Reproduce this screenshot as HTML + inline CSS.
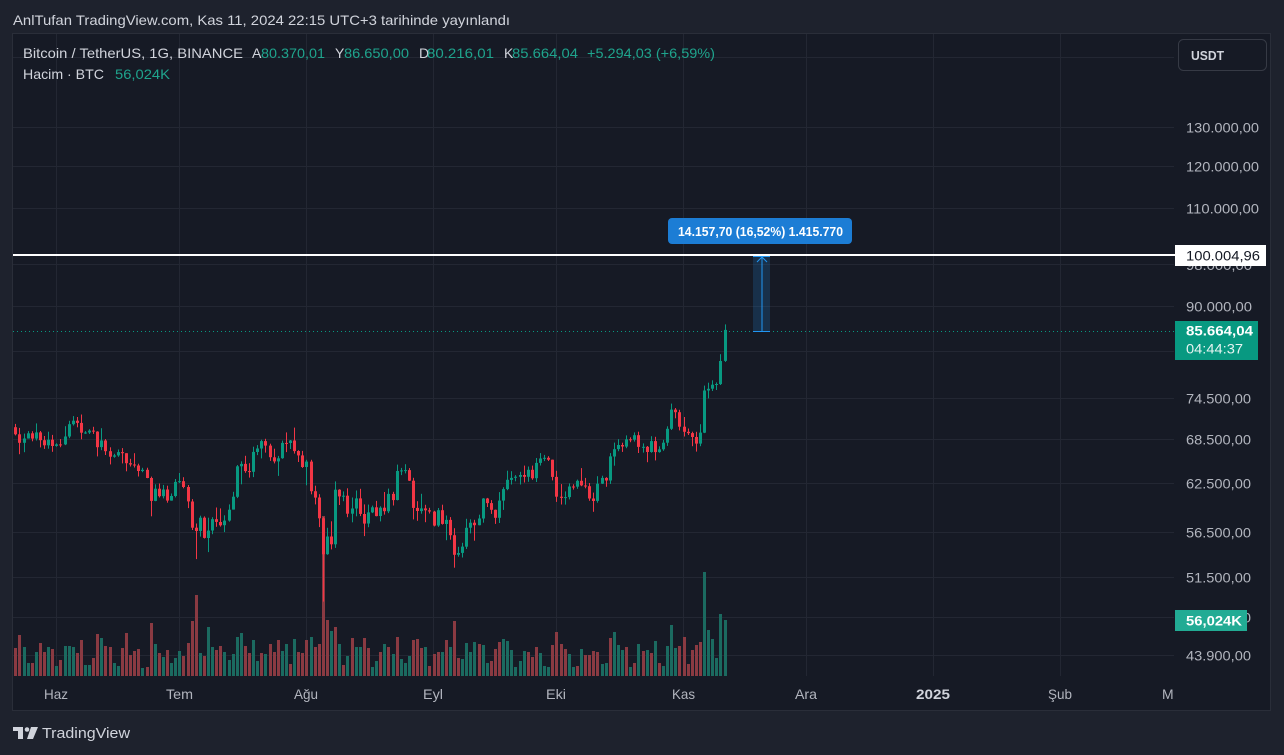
<!DOCTYPE html>
<html><head><meta charset="utf-8">
<style>
html,body{margin:0;padding:0;background:#1e222d;width:1284px;height:755px;overflow:hidden}
svg{display:block}
text{font-family:"Liberation Sans",sans-serif}
</style></head><body>
<svg id="s" width="1284" height="755" viewBox="0 0 1284 755" xmlns="http://www.w3.org/2000/svg">
<defs>
<clipPath id="tc"><rect x="13" y="676" width="1160.5" height="34"/></clipPath>
</defs>
<rect width="1284" height="755" fill="#1e222d"/>
<text x="13" y="25" fill="#d1d4dc" font-size="14" textLength="497" lengthAdjust="spacingAndGlyphs">AnlTufan TradingView.com, Kas 11, 2024 22:15 UTC+3 tarihinde yayınlandı</text>
<rect x="12.5" y="33.5" width="1258" height="677" fill="#161a25" stroke="#2a2e39"/>

<!-- grid -->
<g stroke="#232733" stroke-width="1">
<line x1="13" x2="1174" y1="57.5" y2="57.5"/>
<line x1="13" x2="1174" y1="127.5" y2="127.5"/>
<line x1="13" x2="1174" y1="166.5" y2="166.5"/>
<line x1="13" x2="1174" y1="208.5" y2="208.5"/>
<line x1="13" x2="1174" y1="264.5" y2="264.5"/>
<line x1="13" x2="1174" y1="306.5" y2="306.5"/>
<line x1="13" x2="1174" y1="351.5" y2="351.5"/>
<line x1="13" x2="1174" y1="398.5" y2="398.5"/>
<line x1="13" x2="1174" y1="439.5" y2="439.5"/>
<line x1="13" x2="1174" y1="483.5" y2="483.5"/>
<line x1="13" x2="1174" y1="532.5" y2="532.5"/>
<line x1="13" x2="1174" y1="577.5" y2="577.5"/>
<line x1="13" x2="1174" y1="617.5" y2="617.5"/>
<line x1="13" x2="1174" y1="655.5" y2="655.5"/>
<line x1="56.5" x2="56.5" y1="34" y2="676"/>
<line x1="179.5" x2="179.5" y1="34" y2="676"/>
<line x1="306.5" x2="306.5" y1="34" y2="676"/>
<line x1="433.5" x2="433.5" y1="34" y2="676"/>
<line x1="556.5" x2="556.5" y1="34" y2="676"/>
<line x1="683.5" x2="683.5" y1="34" y2="676"/>
<line x1="806.5" x2="806.5" y1="34" y2="676"/>
<line x1="933.5" x2="933.5" y1="34" y2="676"/>
<line x1="1060.5" x2="1060.5" y1="34" y2="676"/>
</g>

<g id="vol"></g>
<g id="cd"></g>

<!-- current price dotted line -->
<line x1="13" x2="1175" y1="331.5" y2="331.5" stroke="#089981" stroke-width="1" stroke-dasharray="1 3"/>

<!-- measure tool -->
<rect x="753" y="256" width="17" height="75" fill="rgba(33,150,243,0.18)"/>
<line x1="753" x2="770" y1="256.5" y2="256.5" stroke="#2196f3" stroke-width="1"/>
<line x1="753" x2="770" y1="331.5" y2="331.5" stroke="#2196f3" stroke-width="1"/>
<line x1="762" x2="762" y1="257" y2="331" stroke="#2196f3" stroke-width="1"/>
<polyline points="757,262 762,257 767,262" fill="none" stroke="#2196f3" stroke-width="1"/>
<rect x="668" y="218" width="184" height="26" rx="4" fill="#1c7dd5"/>
<text x="678" y="236" fill="#ffffff" font-size="13" font-weight="bold" textLength="165" lengthAdjust="spacingAndGlyphs">14.157,70 (16,52%) 1.415.770</text>

<!-- white horizontal line -->
<rect x="13" y="254" width="1162" height="2" fill="#ffffff"/>

<!-- legend -->
<g font-size="14">
<text x="23" y="58" fill="#d1d4dc" textLength="220" lengthAdjust="spacingAndGlyphs">Bitcoin / TetherUS, 1G, BINANCE</text>
<text x="252" y="58" fill="#d1d4dc">A</text>
<text x="261" y="58" fill="#1fa48d" textLength="64" lengthAdjust="spacingAndGlyphs">80.370,01</text>
<text x="335" y="58" fill="#d1d4dc">Y</text>
<text x="344" y="58" fill="#1fa48d" textLength="65" lengthAdjust="spacingAndGlyphs">86.650,00</text>
<text x="419" y="58" fill="#d1d4dc">D</text>
<text x="427" y="58" fill="#1fa48d" textLength="67" lengthAdjust="spacingAndGlyphs">80.216,01</text>
<text x="504" y="58" fill="#d1d4dc">K</text>
<text x="512" y="58" fill="#1fa48d" textLength="66" lengthAdjust="spacingAndGlyphs">85.664,04</text>
<text x="587" y="58" fill="#1fa48d" textLength="128" lengthAdjust="spacingAndGlyphs">+5.294,03 (+6,59%)</text>
<text x="23" y="79" fill="#d1d4dc" textLength="81" lengthAdjust="spacingAndGlyphs">Hacim · BTC</text>
<text x="115" y="79" fill="#1fa48d" textLength="55" lengthAdjust="spacingAndGlyphs">56,024K</text>
</g>

<!-- price axis -->
<rect x="1178.5" y="39.5" width="88" height="31" rx="5" fill="#161a25" stroke="#363a45"/>
<text x="1191" y="60" fill="#d1d4dc" font-size="13" font-weight="bold" textLength="33" lengthAdjust="spacingAndGlyphs">USDT</text>
<g font-size="14" fill="#b2b5be">
<text x="1186" y="132.5" textLength="73" lengthAdjust="spacingAndGlyphs">130.000,00</text>
<text x="1186" y="171.5" textLength="73" lengthAdjust="spacingAndGlyphs">120.000,00</text>
<text x="1186" y="213.5" textLength="73" lengthAdjust="spacingAndGlyphs">110.000,00</text>
<text x="1186" y="270" textLength="66" lengthAdjust="spacingAndGlyphs">98.000,00</text>
<text x="1186" y="311.5" textLength="66" lengthAdjust="spacingAndGlyphs">90.000,00</text>
<text x="1186" y="403.5" textLength="65" lengthAdjust="spacingAndGlyphs">74.500,00</text>
<text x="1186" y="444.5" textLength="65" lengthAdjust="spacingAndGlyphs">68.500,00</text>
<text x="1186" y="488.5" textLength="65" lengthAdjust="spacingAndGlyphs">62.500,00</text>
<text x="1186" y="537.5" textLength="65" lengthAdjust="spacingAndGlyphs">56.500,00</text>
<text x="1186" y="582.5" textLength="65" lengthAdjust="spacingAndGlyphs">51.500,00</text>
<text x="1186" y="622.5" textLength="65" lengthAdjust="spacingAndGlyphs">47.500,00</text>
<text x="1186" y="660.5" textLength="65" lengthAdjust="spacingAndGlyphs">43.900,00</text>
</g>
<rect x="1175" y="245" width="91" height="21" fill="#ffffff"/>
<text x="1186" y="260.5" fill="#131722" font-size="14" textLength="74" lengthAdjust="spacingAndGlyphs">100.004,96</text>
<rect x="1175" y="321" width="83" height="39" fill="#089981"/>
<text x="1186" y="335.5" fill="#ffffff" font-size="14" font-weight="bold" textLength="67" lengthAdjust="spacingAndGlyphs">85.664,04</text>
<text x="1186" y="353.5" fill="#e6f4f1" font-size="14" textLength="57" lengthAdjust="spacingAndGlyphs">04:44:37</text>
<rect x="1175" y="610" width="72" height="21" fill="#22ab94"/>
<text x="1186" y="625.5" fill="#ffffff" font-size="14" font-weight="bold" textLength="56" lengthAdjust="spacingAndGlyphs">56,024K</text>

<!-- time axis -->
<g font-size="14" fill="#b2b5be" clip-path="url(#tc)">
<text x="44" y="699" textLength="24" lengthAdjust="spacingAndGlyphs">Haz</text>
<text x="166" y="699" textLength="27" lengthAdjust="spacingAndGlyphs">Tem</text>
<text x="294" y="699" textLength="24" lengthAdjust="spacingAndGlyphs">Ağu</text>
<text x="423" y="699" textLength="20" lengthAdjust="spacingAndGlyphs">Eyl</text>
<text x="546" y="699" textLength="20" lengthAdjust="spacingAndGlyphs">Eki</text>
<text x="672" y="699" textLength="23" lengthAdjust="spacingAndGlyphs">Kas</text>
<text x="795" y="699" textLength="22" lengthAdjust="spacingAndGlyphs">Ara</text>
<text x="916" y="699" fill="#d1d4dc" font-weight="bold" textLength="34" lengthAdjust="spacingAndGlyphs">2025</text>
<text x="1048" y="699" textLength="24" lengthAdjust="spacingAndGlyphs">Şub</text>
<text x="1162" y="699" textLength="24" lengthAdjust="spacingAndGlyphs">Mar</text>
</g>

<!-- TradingView logo -->
<g fill="#d1d4dc">
<rect x="13" y="727" width="10" height="4"/>
<rect x="18" y="727" width="5" height="12"/>
<circle cx="27" cy="729.5" r="2.3"/>
<polygon points="31,727 38,727 33,739 27,739"/>
</g>
<text x="42" y="738" fill="#d1d4dc" font-size="15" textLength="88" lengthAdjust="spacingAndGlyphs">TradingView</text>
</svg>
<script>
(function(){
var D=[[70140,70623,68977,69122],[69122,70041,66356,67929],[67929,69220,66622,68526],[68526,69579,68515,69265],[69265,69560,68128,68518],[68518,70687,68250,69394],[69394,69590,67278,68296],[68296,68880,67075,67578],[67578,69500,67118,68364],[68364,69033,66670,67491],
[67491,67857,67386,67706],[67706,68447,67315,67690],[67690,70288,67613,68804],[68804,71063,68567,70567],[70567,71758,70390,71082],[71082,71625,70119,70757],[70757,71997,68420,69342],[69342,69582,69185,69380],[69380,69850,69160,69647],[69647,70195,69172,69512],
[69512,69560,66051,67321],[67321,70000,66900,68243],[68243,68449,66251,66756],[66756,67294,64964,66011],[66011,66402,65870,66191],[66191,66998,65999,66639],[66639,67188,65104,66490],[66490,66490,64066,65140],[65140,65728,64693,64960],[64960,66482,64559,64828],
[64828,65066,63379,64096],[64096,64521,63943,64252],[64252,64537,63154,63180],[63180,63369,58402,60277],[60277,62369,60239,61806],[61806,62480,60712,60864],[60864,62293,60585,61706],[61706,62189,60052,60320],[60320,61197,60300,60887],[60887,63058,60712,62678],
[62678,63835,62525,62773],[62773,63288,61860,62023],[62023,62285,59400,60208],[60208,60498,56771,57050],[57050,57546,53485,56660],[56660,58475,56018,58230],[58230,58383,55793,55857],[55857,58236,54260,56714],[56714,58296,56289,58050],[58050,59470,57157,57725],
[57725,59359,57178,57339],[57339,58526,56542,57889],[57889,59850,57756,59204],[59204,61420,59208,60797],[60797,64900,60632,64724],[64724,65388,62373,65043],[65043,66128,63854,64087],[64087,65133,63238,63987],[63987,67386,63300,66660],[66660,67598,66222,67140],
[67140,68366,65782,68165],[68165,68480,66559,67532],[67532,67800,65441,65936],[65936,67102,65111,65376],[65376,66114,63456,65799],[65799,68237,65738,67907],[67907,69399,66650,67896],[67896,68318,67066,68249],[68249,70079,66428,66784],[66784,66900,65302,66188],
[66188,66810,64520,64628],[64628,65593,62248,65354],[65354,65596,61100,61498],[61498,62198,59850,60697],[60697,61117,57122,58161],[58161,58288,49000,54018],[54018,57040,53962,56022],[56022,57800,54558,55134],[55134,62745,54730,61685],[61685,61744,59767,60837],
[60837,61470,60242,60923],[60923,61858,58286,58712],[58712,60699,57688,59346],[59346,61578,58392,60587],[60587,61800,58433,58683],[58683,59848,56078,57541],[57541,59817,57098,58874],[58874,59700,58785,59491],[59491,60284,58408,58427],[58427,59617,57800,59438],
[59438,61396,58610,59013],[59013,61820,58783,61157],[61157,61418,59713,60381],[60381,64955,60342,64094],[64094,64513,63570,64178],[64178,65000,63780,64220],[64220,64486,62800,62834],[62834,63210,58034,59415],[59415,60236,57860,59034],[59034,61166,58713,59359],
[59359,59800,57700,59123],[59123,59433,58740,58973],[58973,59062,57201,57301],[57301,59403,57136,59132],[59132,59809,57416,57487],[57487,58500,55606,57970],[57970,58300,55653,56180],[56180,56995,52550,53962],[53962,54850,53745,54160],[54160,55300,53653,54869],
[54869,58100,54598,57042],[57042,58044,56386,57635],[57635,57980,55545,57339],[57339,58588,57325,58132],[58132,60625,57632,60571],[60571,60656,59538,60005],[60005,60381,58696,59182],[59182,59210,57493,58213],[58213,61382,57610,60313],[60313,62000,59174,61759],
[61759,64133,61610,62947],[62947,64080,62350,63201],[63201,63560,62760,63348],[63348,64000,62357,63578],[63578,64818,62600,63339],[63339,64700,62697,64262],[64262,64817,62947,63152],[63152,65839,62670,65173],[65173,66498,64819,65769],[65769,66260,65422,65858],
[65858,66076,65432,65602],[65602,65620,62870,63327],[63327,64130,60164,60805],[60805,62392,59828,60649],[60649,61469,59828,60752],[60752,62484,60459,62086],[62086,62370,61689,62058],[62058,62983,61798,62819],[62819,64478,62128,62224],[62224,63200,61860,62132],
[62132,62543,60301,60583],[60583,61321,58946,60276],[60276,63417,60050,62445],[62445,63480,62400,63193],[63193,63285,62050,62852],[62852,66500,62422,66047],[66047,67950,64800,67041],[67041,68424,66751,67613],[67613,67939,66666,67399],[67399,68969,67177,68419],
[68419,68693,68010,68362],[68362,69400,68100,69001],[69001,69500,66518,67368],[67368,67836,66571,67370],[67370,67475,65260,66650],[66650,68850,66548,68162],[68162,68774,65520,66642],[66642,67445,66566,67020],[67020,68350,66818,67939],[67939,70270,67500,69909],
[69909,73620,69730,72720],[72720,72961,71436,72339],[72339,72700,69685,70215],[70215,71632,68820,69482],[69482,69950,69020,69289],[69289,69500,67457,68741],[68741,69480,66711,67811],[67811,70577,67458,69360],[69360,76400,69298,75640],[75640,76850,74417,75904],
[75904,77239,75559,76538],[76538,76900,75714,76649],[76649,81500,76496,80370],[80370,86650,80216,85664]];
var VH=[28,41,29,13,13,24,33,24,29,27,10,16,30,30,29,23,36,11,11,18,42,38,30,29,13,10,28,43,21,25,27,8,9,53,32,23,19,26,13,18,25,20,33,55,81,23,20,49,29,26,30,24,16,22,39,43,30,23,36,15,23,22,32,24,36,25,32,12,37,24,23,36,39,29,32,160,56,45,49,32,11,20,38,29,29,38,28,
9,15,24,32,29,22,39,17,13,20,36,37,28,29,10,22,24,24,36,29,55,18,17,33,24,34,32,31,13,15,27,34,37,35,26,9,15,25,24,19,29,23,10,9,31,44,32,27,22,9,10,27,21,21,25,24,12,13,38,44,31,26,29,9,13,32,25,26,23,35,13,10,30,51,28,30,39,12,26,31,34,104,46,37,18,62,56];
var VC="rrggrgrrgrgrgggrrggrrgrrggrrrrrgrrgrgrgggrrrrgrggrrgggggrrggrgrrrggrgrrrgrrrrgrgrgrggrrg"+"grgrgrgggrrrgrrrgrgrrggggrggrrrggggggrrrgggrrrrggrgrrrrggrgggrgrgrgrgrggggrrrrrrggggggg";
function Y(p){return 127+486.5*(11.77529-Math.log(p));}
var vs='',cs='';
for(var i=0;i<D.length;i++){
  var cx=Math.round(15.3+i*4.1);
  var d=D[i],up=d[3]>=d[0];
  var col=up?'#089981':'#f23645';
  var yh=Y(d[1]),yl=Y(d[2]),yo=Y(d[0]),yc=Y(d[3]);
  var top=Math.min(yo,yc),bh=Math.max(1,Math.abs(yo-yc));
  cs+='<rect x="'+cx+'" y="'+yh.toFixed(1)+'" width="1" height="'+(yl-yh).toFixed(1)+'" fill="'+col+'"/>';
  cs+='<rect x="'+(cx-1)+'" y="'+top.toFixed(1)+'" width="3" height="'+bh.toFixed(1)+'" fill="'+col+'"/>';
  var h=VH[i]||0,vc=(VC.charAt(i)==='g')?'#1b6a60':'#8a3a42';
  vs+='<rect x="'+(cx-1)+'" y="'+(676-h)+'" width="3" height="'+h+'" fill="'+vc+'"/>';
}
document.getElementById('vol').innerHTML=vs;
document.getElementById('cd').innerHTML=cs;
})();
</script>
</body></html>
